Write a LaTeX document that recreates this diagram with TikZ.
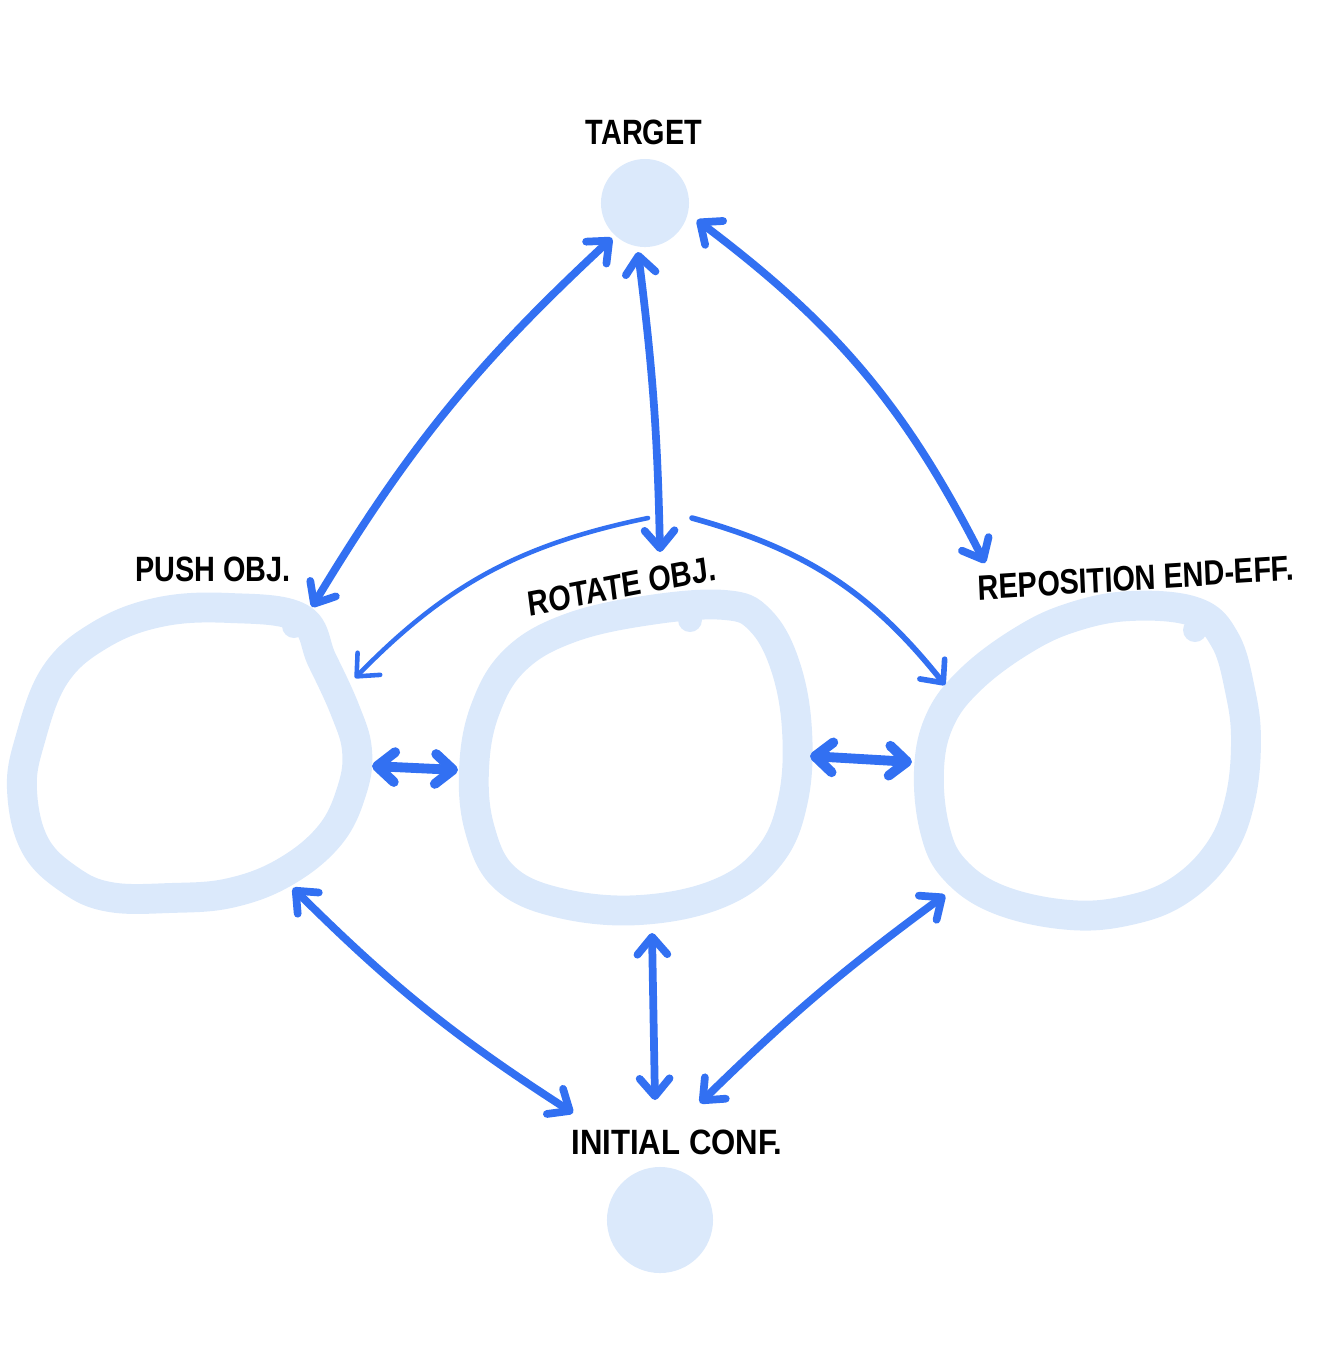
\documentclass[tikz,border=0pt]{standalone}
\usepackage{fontspec}
\setmainfont{Liberation Sans}
\usetikzlibrary{arrows.meta}
\definecolor{ringc}{RGB}{219,233,251}
\definecolor{arrc}{RGB}{50,112,242}
\tikzset{
  ring/.style={draw=ringc, line width=8.5pt, line join=round},
  blob/.style={circle, fill=ringc, inner sep=0pt, outer sep=0pt},
  lbl/.style={font=\bfseries\fontsize{10}{12}\selectfont, xscale=0.82, inner sep=0pt},
  conn/.style={draw=arrc, line width=2.2pt, line cap=round,
    {Straight Barb[length=5pt,width=8.5pt,round]}-{Straight Barb[length=5pt,width=8.5pt,round]}},
  shortconn/.style={conn, line width=2.8pt},
  oneway/.style={draw=arrc, line width=1.3pt, line cap=round,
    -{Straight Barb[length=5pt,width=9pt,round]}},
}
\begin{document}
\begin{tikzpicture}[x=0.01cm,y=-0.01cm]
\useasboundingbox (0,0) rectangle (1334,1350);

% --- state rings (hand-drawn) ---
\draw[ring] plot[smooth cycle, tension=0.65] coordinates {
  (300,618) (230,608) (160,612) (100,635) (55,675) (30,740) (22,790) (35,845)
  (70,880) (110,897) (170,898) (230,893) (285,872) (330,835) (352,790) (357,750)
  (345,710) (322,660)};
\fill[ringc] (294,626) circle (12);

\draw[ring] plot[smooth cycle, tension=0.65] coordinates {
  (650,610) (725,605) (760,620) (785,665) (797,730) (793,800) (770,855) (720,893)
  (640,910) (560,903) (505,878) (480,830) (474,770) (485,710) (515,660) (570,628)};
\fill[ringc] (690,620) circle (12);

\draw[ring] plot[smooth cycle, tension=0.65] coordinates {
  (1130,606) (1195,612) (1225,640) (1240,690) (1246,740) (1240,800) (1220,850)
  (1180,890) (1130,910) (1070,915) (1000,900) (955,870) (935,830) (929,770)
  (940,720) (970,680) (1020,642) (1070,618)};
\fill[ringc] (1195,630) circle (12);

% --- target and initial configuration ---
\node[blob, minimum size=0.88cm] (target) at (645,203) {};
\node[blob, minimum size=1.06cm] (init) at (660,1220) {};

% --- labels ---
\node[lbl] (targetlbl) at (644,132) {TARGET};
\node[lbl] (pushlbl) at (213,569) {PUSH OBJ.};
\node[lbl, rotate=9] (rotlbl) at (622,586) {ROTATE OBJ.};
\node[lbl, rotate=3] (replbl) at (1136,578) {REPOSITION END-EFF.};
\node[lbl, xscale=1.08] (initlbl) at (677,1142) {INITIAL CONF.};

% --- connector end points ---
\coordinate (t-push) at (612,238);
\coordinate (t-rot)  at (638,252);
\coordinate (t-rep)  at (697,220);
\coordinate (push-t) at (312,607);
\coordinate (rot-t)  at (660,552);
\coordinate (rep-t)  at (985,563);
\coordinate (rot-top1) at (648,518);
\coordinate (rot-top2) at (692,518);
\coordinate (push-side) at (355,678);
\coordinate (rep-side) at (945,685);
\coordinate (push-r) at (372,766);
\coordinate (rot-l)  at (458,770);
\coordinate (rot-r)  at (810,756);
\coordinate (rep-l)  at (912,762);
\coordinate (push-b) at (293,888);
\coordinate (rot-b)  at (652,933);
\coordinate (rep-b)  at (945,895);
\coordinate (i-push) at (573,1113);
\coordinate (i-rot)  at (655,1100);
\coordinate (i-rep)  at (700,1103);

% --- connectors ---
\draw[conn] (push-t) to[bend left=8] (t-push);
\draw[conn] (t-rot) to[bend left=3] (rot-t);
\draw[conn] (t-rep) to[bend left=13] (rep-t);
\draw[oneway] (rot-top1) to[bend right=17] (push-side);
\draw[oneway, line width=1.6pt] (rot-top2) to[bend left=18] (rep-side);
\draw[shortconn] (push-r) -- (rot-l);
\draw[shortconn] (rot-r) -- (rep-l);
\draw[conn] (push-b) to[bend right=6] (i-push);
\draw[conn] (rot-b) -- (i-rot);
\draw[conn] (rep-b) to[bend right=4] (i-rep);
\end{tikzpicture}
\end{document}
